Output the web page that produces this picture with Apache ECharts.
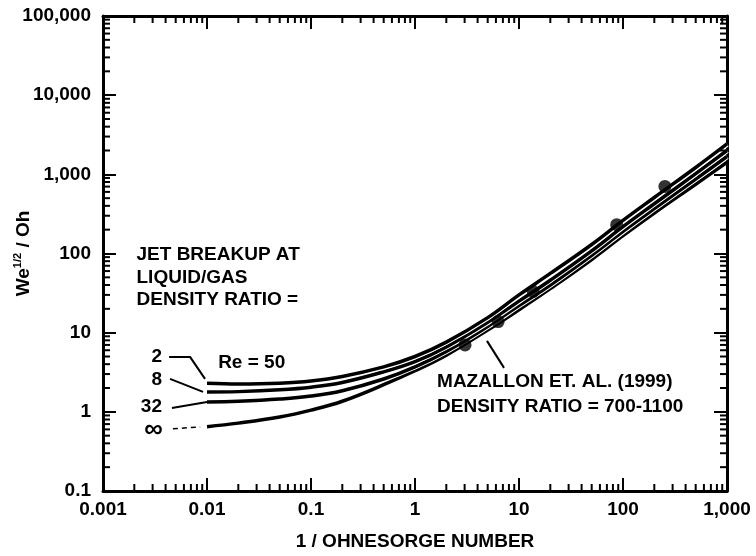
<!DOCTYPE html>
<html>
<head>
<meta charset="utf-8">
<script src="https://cdn.jsdelivr.net/npm/echarts@6/dist/echarts.min.js"></script>
<style>html,body{margin:0;padding:0;background:#fff;}#c{width:756px;height:556px;}</style>
</head>
<body>
<div id="c"></div>
<script>
// ---- tick labels ----
const xTickValues = [0.001, 0.01, 0.1, 1, 10, 100, 1000];
const xTickLabels = ['0.001', '0.01', '0.1', '1', '10', '100', '1,000'];
const yTickValues = [0.1, 1, 10, 100, 1000, 10000, 100000];
const yTickLabels = ['0.1', '1', '10', '100', '1,000', '10,000', '100,000'];
const minorMultipliers = [2, 3, 4, 5, 6, 7, 8, 9];

// ---- curves (1/Oh vs We^1/2/Oh), density ratio 2, 8, 32, infinity ----
const invOh = [0.01, 0.02, 0.05, 0.1, 0.2, 0.5, 1, 2, 5, 10, 20, 50, 100, 200, 500, 1000];
const ratio2   = [2.3, 2.25, 2.3, 2.45, 2.8, 3.7, 5.0, 7.6, 15.5, 30, 56, 130, 262, 510, 1220, 2420];
const ratio8   = [1.78, 1.8, 1.9, 2.05, 2.35, 3.2, 4.3, 6.6, 13.5, 25, 46, 108, 218, 425, 1020, 2000];
const ratio32  = [1.33, 1.36, 1.45, 1.58, 1.85, 2.6, 3.7, 5.8, 12, 22, 40, 95, 190, 370, 870, 1680];
const ratioInf = [0.65, 0.72, 0.86, 1.05, 1.36, 2.2, 3.3, 5.2, 10.8, 19.5, 36, 84, 168, 325, 750, 1420];
// dashed extrapolation of the infinity curve
const infDashX = [0.0047, 0.0086];
const infDashY = [0.61, 0.645];

// ---- Mazallon et al. (1999) data ----
const mazallonX = [3.03, 6.3, 13.7, 87, 253];
const mazallonY = [7.0, 13.8, 33.1, 231, 703];

const FONT = '"Liberation Sans", Arial, Helvetica, sans-serif';

function zip(xs, ys) { return xs.map((x, i) => [x, ys[i]]); }
function lookup(vals, labels, v) {
  const i = vals.findIndex(t => Math.abs(Math.log10(t) - Math.log10(v)) < 1e-6);
  return i >= 0 ? labels[i] : '';
}
const xMinor = [];
xTickValues.slice(0, -1).forEach(d => minorMultipliers.forEach(m => xMinor.push(d * m)));
const yMinor = [];
yTickValues.slice(0, -1).forEach(d => minorMultipliers.forEach(m => yMinor.push(d * m)));

const chart = echarts.init(document.getElementById('c'), null, {renderer: 'canvas'});

function axisLine() { return {show: true, onZero: false, lineStyle: {color: '#000', width: 3}}; }
function majorTick() { return {show: true, inside: true, length: 13, lineStyle: {color: '#000', width: 2}}; }
const labelStyle = {color: '#000', fontSize: 19, fontWeight: 'bold', fontFamily: FONT};

function curve(name, ys, halo) {
  const arr = [];
  if (halo) arr.push({
    name: name + '-halo', type: 'line', data: zip(invOh, ys), smooth: 0.4, symbol: 'none',
    lineStyle: {color: '#fff', width: 5.5}, silent: true, animation: false
  });
  arr.push({
    name: name, type: 'line', data: zip(invOh, ys), smooth: 0.4, symbol: 'none',
    lineStyle: {color: '#000', width: 3.5}, silent: true, animation: false
  });
  return arr;
}

function leader(pts, w, dash) {
  return {
    type: 'line', data: pts, symbol: 'none', silent: true, animation: false,
    lineStyle: {color: '#000', width: w, type: dash || 'solid'}
  };
}

function minorTicks(values, isX) {
  return {
    type: 'custom', silent: true, animation: false, clip: false, z: 10,
    data: values.map(v => isX ? [v, 1] : [1, v]),
    encode: {x: 0, y: 1},
    renderItem: function (params, api) {
      const cs = params.coordSys;
      const p = api.coord([api.value(0), api.value(1)]);
      const L = 7;
      if (isX) {
        return {type: 'group', children: [
          {type: 'line', shape: {x1: p[0], y1: cs.y + cs.height, x2: p[0], y2: cs.y + cs.height - L}, style: {stroke: '#000', lineWidth: 2}},
          {type: 'line', shape: {x1: p[0], y1: cs.y, x2: p[0], y2: cs.y + L}, style: {stroke: '#000', lineWidth: 2}}
        ]};
      }
      return {type: 'group', children: [
        {type: 'line', shape: {x1: cs.x, y1: p[1], x2: cs.x + L, y2: p[1]}, style: {stroke: '#000', lineWidth: 2}},
        {type: 'line', shape: {x1: cs.x + cs.width, y1: p[1], x2: cs.x + cs.width - L, y2: p[1]}, style: {stroke: '#000', lineWidth: 2}}
      ]};
    }
  };
}

const series = [].concat(
  curve('inf', ratioInf, false),
  curve('32', ratio32, true),
  curve('8', ratio8, true),
  curve('2', ratio2, true),
  [leader(zip(infDashX, infDashY), 1.5, [5, 4])],
  [leader([[0.00432, 4.94], [0.00687, 4.94], [0.00957, 2.61]], 2)],
  [leader([[0.00441, 2.61], [0.00916, 1.785]], 2)],
  [leader([[0.0046, 1.12], [0.01, 1.33]], 2)],
  [leader([[4.92, 7.87], [7.18, 3.59]], 2)],
  [{
    type: 'scatter', data: zip(mazallonX, mazallonY), symbol: 'circle', symbolSize: 13,
    itemStyle: {color: '#000'}, silent: true, animation: false, z: 5
  }],
  [minorTicks(xMinor, true), minorTicks(yMinor, false)]
);

chart.setOption({
  backgroundColor: '#fff',
  animation: false,
  grid: {left: 103, top: 16, right: 29, bottom: 65, containLabel: false, outerBoundsMode: 'none'},
  xAxis: [{
    type: 'log', logBase: 10, min: 0.001, max: 1000, splitNumber: 6, position: 'bottom',
    axisLine: axisLine(), axisTick: majorTick(), splitLine: {show: false},
    axisLabel: Object.assign({margin: 9, formatter: v => lookup(xTickValues, xTickLabels, v)}, labelStyle),
    name: '1 / OHNESORGE NUMBER', nameLocation: 'middle', nameGap: 41, nameMoveOverlap: false,
    nameTextStyle: {color: '#000', fontSize: 19, fontWeight: 'bold', fontFamily: FONT}
  }, {
    type: 'log', logBase: 10, min: 0.001, max: 1000, splitNumber: 6, position: 'top',
    axisLine: axisLine(), axisTick: majorTick(), splitLine: {show: false}, axisLabel: {show: false}
  }],
  yAxis: [{
    type: 'log', logBase: 10, min: 0.1, max: 100000, splitNumber: 6, position: 'left',
    axisLine: axisLine(), axisTick: majorTick(), splitLine: {show: false},
    axisLabel: Object.assign({margin: 12, formatter: v => lookup(yTickValues, yTickLabels, v)}, labelStyle),
    name: '{a|We}{s|1/2}{a| / Oh}', nameLocation: 'middle', nameGap: 67, nameRotate: 90,
    nameMoveOverlap: false,
    nameTextStyle: {
      color: '#000', fontFamily: FONT,
      rich: {
        a: {fontSize: 19, fontWeight: 'bold', fontFamily: FONT, color: '#000', lineHeight: 24},
        s: {fontSize: 11, fontWeight: 'bold', fontFamily: FONT, color: '#000', verticalAlign: 'top', lineHeight: 14}
      }
    }
  }, {
    type: 'log', logBase: 10, min: 0.1, max: 100000, splitNumber: 6, position: 'right',
    axisLine: axisLine(), axisTick: majorTick(), splitLine: {show: false}, axisLabel: {show: false}
  }],
  series: series
});

// ---- text annotations anchored in data space ----
const annotations = [
  {text: 'JET BREAKUP AT\nLIQUID/GAS\nDENSITY RATIO =', at: [0.0021, 50], align: 'left', lh: 22.5},
  {text: '2', at: [0.00369, 4.94], align: 'right'},
  {text: '8', at: [0.00369, 2.53], align: 'right'},
  {text: '32', at: [0.00369, 1.15], align: 'right'},
  {text: '\u221E', at: [0.00375, 0.59], align: 'right', size: 26},
  {text: 'Re = 50', at: [0.0128, 4.15], align: 'left'},
  {text: 'MAZALLON ET. AL. (1999)', at: [1.63, 2.39], align: 'left'},
  {text: 'DENSITY RATIO = 700-1100', at: [1.63, 1.15], align: 'left'}
];
const graphics = annotations.map(a => {
  const p = chart.convertToPixel({xAxisIndex: 0, yAxisIndex: 0}, a.at);
  return {
    type: 'text', x: p[0], y: p[1], silent: true,
    style: {
      text: a.text, fill: '#000', font: 'bold ' + (a.size || 19) + 'px ' + FONT,
      align: a.align, verticalAlign: 'middle', lineHeight: a.lh || 22
    }
  };
});
chart.setOption({graphic: graphics});
</script>
</body>
</html>
